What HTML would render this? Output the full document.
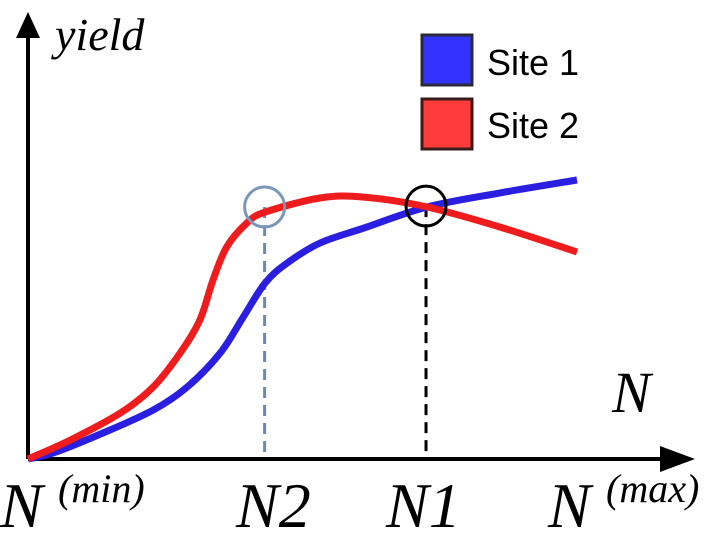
<!DOCTYPE html>
<html><head><meta charset="utf-8"><style>
html,body{margin:0;padding:0;background:#fff;width:711px;height:536px;overflow:hidden}
svg{display:block}
.m{font-family:"Liberation Serif",serif;font-style:italic}
</style></head><body>
<svg id="chart" width="711" height="536">
<line x1="28" y1="459" x2="28" y2="32" stroke="#000" stroke-width="4"/>
<polygon points="28,12 16,38 40,38" fill="#000"/>
<line x1="28" y1="459" x2="670" y2="459" stroke="#000" stroke-width="4"/>
<polygon points="695,459 660,446 660,472" fill="#000"/>
<g id="marks"></g>
<text x="55" y="50" class="m" font-size="46">yield</text>
<text x="612" y="412" class="m" font-size="58">N</text>
<g font-size="64" class="m">
<text x="0" y="527">N<tspan font-size="40" dy="-25" x="58">(min)</tspan></text>
<text x="236" y="527">N2</text>
<text x="386" y="527">N1</text>
<text x="548" y="527">N<tspan font-size="40" dy="-25" x="606">(max)</tspan></text>
</g>
<g>
<rect x="422" y="35" width="50" height="50" fill="#3333ff" stroke="#2a2a3a" stroke-width="3"/>
<text x="487" y="75" font-family="Liberation Sans,sans-serif" font-size="36">Site 1</text>
<rect x="422" y="99" width="50" height="50" fill="#ff3b3b" stroke="#3a1a1a" stroke-width="3"/>
<text x="487" y="138" font-family="Liberation Sans,sans-serif" font-size="36">Site 2</text>
</g>
</svg>
<script>
const blueX=[0,4.6,13.7,22.8,29,35,39.2,43.2,47.2,53.2,61.2,72.7,86,100];
const blueY=[0,2,8.7,16.3,24,35.3,47.3,58.7,65.3,72,77,84,88.7,93];
const redX=[0,7.7,16.8,22.8,27.7,31.3,33.7,36.2,39.9,43.2,53.2,61.2,72.7,86,100];
const redY=[0,6.3,15.3,24,35.3,46.3,59.7,70.7,78.7,82.3,87,87.3,84,77.3,69];
const markN2=[43.1,84];
const markN1=[72.5,84.3];
const sx=v=>28+v*5.49, sy=v=>459-v*3;
const NS="http://www.w3.org/2000/svg";
const g=document.getElementById('marks');
function pathD(xs,ys){
  const p=xs.map((x,i)=>[sx(x),sy(ys[i])]);
  let d=`M${p[0][0]},${p[0][1]}`;
  for(let i=0;i<p.length-1;i++){
    const p0=p[Math.max(i-1,0)],p1=p[i],p2=p[i+1],p3=p[Math.min(i+2,p.length-1)];
    d+=` C${p1[0]+(p2[0]-p0[0])/6},${p1[1]+(p2[1]-p0[1])/6} ${p2[0]-(p3[0]-p1[0])/6},${p2[1]-(p3[1]-p1[1])/6} ${p2[0]},${p2[1]}`;
  }
  return d;
}
function line(x1,y1,x2,y2,c){const l=document.createElementNS(NS,'line');
l.setAttribute('x1',x1);l.setAttribute('y1',y1);l.setAttribute('x2',x2);l.setAttribute('y2',y2);
l.setAttribute('stroke',c);l.setAttribute('stroke-width',3);l.setAttribute('stroke-dasharray','11 7');g.appendChild(l);return l;}
const d2=line(sx(markN2[0]),sy(markN2[1]),sx(markN2[0]),459,'#6a8bb0');


const d1=line(sx(markN1[0]),sy(markN1[1]),sx(markN1[0]),459,'#000');


function curve(xs,ys,c){const p=document.createElementNS(NS,'path');
p.setAttribute('d',pathD(xs,ys));p.setAttribute('fill','none');p.setAttribute('stroke',c);
p.setAttribute('stroke-width',7);p.setAttribute('stroke-linejoin','round');g.appendChild(p);return p;}
const b=curve(blueX,blueY,'#2a1fe0');


const r=curve(redX,redY,'#ee1c1c');


function circ(pt,c){const e=document.createElementNS(NS,'circle');
e.setAttribute('cx',sx(pt[0]));e.setAttribute('cy',sy(pt[1]));e.setAttribute('r',20);
e.setAttribute('fill','none');e.setAttribute('stroke',c);e.setAttribute('stroke-width',3);g.appendChild(e);return e;}
const c2=circ(markN2,'#7b97b8');


const c1=circ(markN1,'#000');


</script>
</body></html>
